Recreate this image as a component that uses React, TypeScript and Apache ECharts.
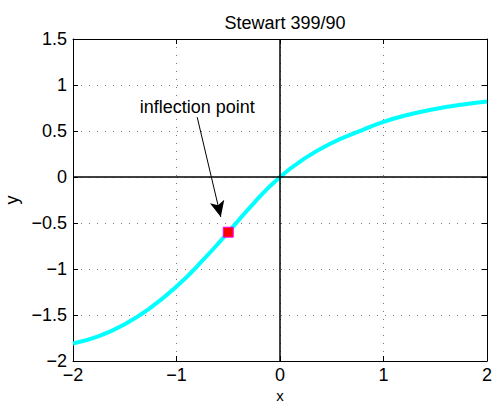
import React, { useEffect, useRef } from "react";
import * as echarts from "echarts";

// curve sample points
const curveX = [-2, -1.75, -1.5, -1.25, -1, -0.75, -0.5, -0.25, 0, 0.25, 0.5, 0.75, 1, 1.25, 1.5, 1.75, 2];
const curveY = [-1.81, -1.73, -1.6, -1.42, -1.19, -0.91, -0.6, -0.28, 0, 0.21, 0.37, 0.49, 0.6, 0.68, 0.74, 0.785, 0.82];

// inflection point marker
const inflectionX = [-0.5];
const inflectionY = [-0.6];

// annotation (data coordinates)
const annotationText = "inflection point";
const annotationTextPos = [-0.8, 0.76];
const arrowStart = [-0.8, 0.65];
const arrowEnd = [-0.572, -0.435];

const titleText = "Stewart 399/90";
const xName = "x";
const yName = "y";

const FONT = "'Liberation Sans', Arial, Helvetica, sans-serif";
const fmt = (v: number) => String(v).replace("-", "\u2212");

export default function App() {
  const ref = useRef<HTMLDivElement>(null);
  useEffect(() => {
    if (!ref.current) return;
    const chart = echarts.init(ref.current, undefined, { renderer: "svg" });
    const curve = curveX.map((x, i) => [x, curveY[i]]);
    const marker = inflectionX.map((x, i) => [x, inflectionY[i]]);
    const tickLabel = { fontFamily: FONT, fontSize: 18, color: "#000" };
    const axisLine = { show: true, onZero: false, lineStyle: { color: "#000", width: 1 } };
    const tick = { show: true, inside: true, length: 5, lineStyle: { color: "#000", width: 1 } };
    const split = { show: true, lineStyle: { color: "#777", width: 1, type: [1, 7] } };
    chart.setOption({
      animation: false,
      title: {
        text: titleText,
        left: 280,
        top: 9,
        textAlign: "center",
        textStyle: { fontFamily: FONT, fontSize: 18, fontWeight: "normal", color: "#000" },
      },
      grid: { left: 73, right: 5, top: 39, bottom: 43, containLabel: false, outerBoundsMode: "none" },
      xAxis: [
        {
          type: "value", min: -2, max: 2, interval: 1, position: "bottom",
          axisLine, axisTick: tick, splitLine: split,
          axisLabel: { ...tickLabel, lineHeight: 16, margin: 6, formatter: fmt },
        },
        {
          type: "value", min: -2, max: 2, interval: 1, position: "top",
          axisLine, axisTick: tick, splitLine: { show: false }, axisLabel: { show: false },
        },
      ],
      yAxis: [
        {
          type: "value", min: -2, max: 1.5, interval: 0.5, position: "left",
          name: yName, nameLocation: "middle", nameGap: 52,
          nameTextStyle: { fontFamily: FONT, fontSize: 18, color: "#000" },
          axisLine, axisTick: tick, splitLine: split,
          axisLabel: { ...tickLabel, margin: 6, formatter: fmt },
        },
        {
          type: "value", min: -2, max: 1.5, interval: 0.5, position: "right",
          axisLine, axisTick: tick, splitLine: { show: false }, axisLabel: { show: false },
        },
      ],
      series: [
        {
          type: "line",
          data: curve,
          smooth: true,
          symbol: "none",
          lineStyle: { color: "#00ffff", width: 4 },
          z: 2,
          markLine: {
            silent: true,
            symbol: "none",
            label: { show: false },
            lineStyle: { color: "#000", width: 1.5, type: "solid" },
            data: [
              { xAxis: 0 },
              { yAxis: 0 },
              [
                { coord: arrowStart, symbol: "none", lineStyle: { color: "#000", width: 1, type: "solid" } },
                { coord: arrowEnd, symbol: "arrow", symbolSize: [11, 16] },
              ],
            ],
          },
        },
        {
          type: "scatter",
          data: marker,
          symbol: "rect",
          symbolSize: 10,
          itemStyle: { color: "#ff0000", borderColor: "#ff00ff", borderWidth: 1, opacity: 1 },
          z: 3,
        },
      ],
    });
    const p = chart.convertToPixel({ gridIndex: 0 }, annotationTextPos) as number[];
    const xc = chart.convertToPixel({ gridIndex: 0 }, [0, -2]) as number[];
    chart.setOption({
      graphic: [
        {
          type: "text",
          x: p[0],
          y: p[1],
          style: {
            text: annotationText,
            fontFamily: FONT,
            fontSize: 18,
            fill: "#000",
            align: "center",
            verticalAlign: "middle",
          },
        },
        {
          type: "text",
          x: xc[0],
          y: xc[1] + 34,
          style: {
            text: xName,
            fontFamily: FONT,
            fontSize: 15,
            lineHeight: 15,
            fill: "#000",
            align: "center",
            verticalAlign: "middle",
          },
        },
      ],
    });
    return () => chart.dispose();
  }, []);
  return (
    <div
      ref={ref}
      style={{ position: "fixed", left: 0, top: 0, width: 492, height: 404, background: "#fff" }}
    />
  );
}
